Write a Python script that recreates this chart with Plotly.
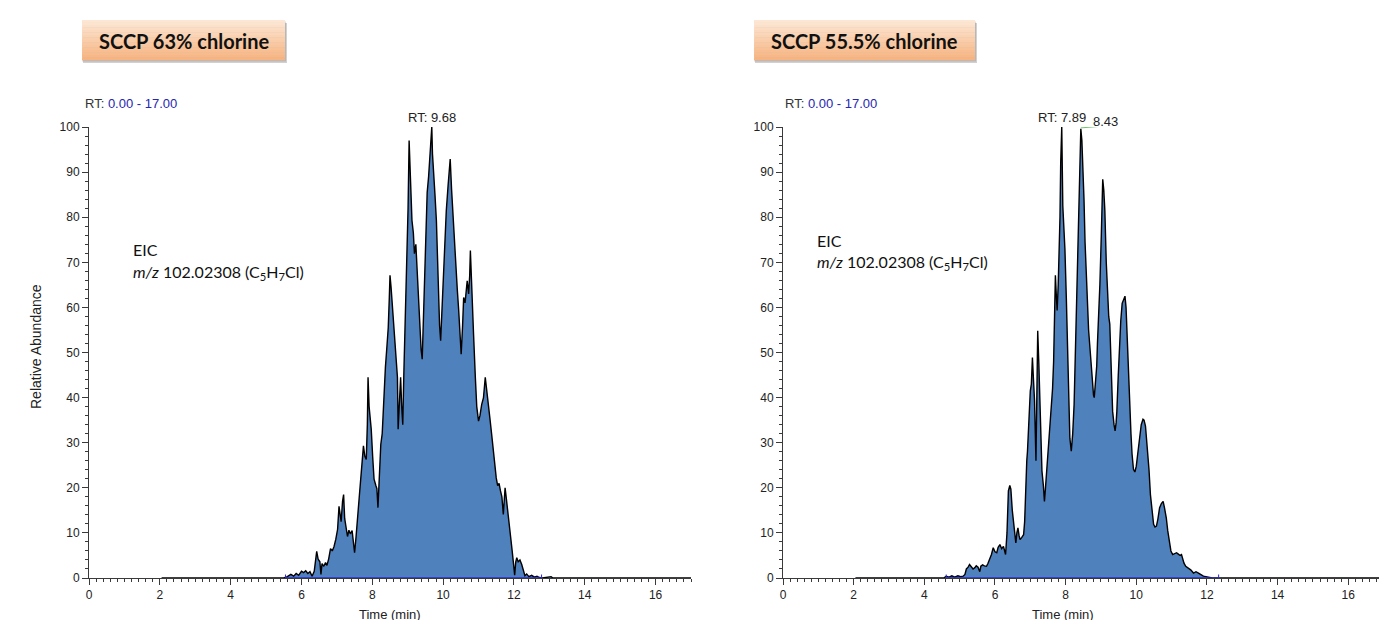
import plotly.graph_objects as go

W, H = 1379, 620

# ---------------- data ----------------
left_time = [2.05, 5.50, 5.60, 5.70, 5.78, 5.85, 5.92, 6.00, 6.06, 6.12, 6.18, 6.24, 6.30, 6.36,
             6.43, 6.47, 6.52, 6.55, 6.58, 6.63, 6.68, 6.72, 6.77, 6.82, 6.87, 6.92, 6.97, 7.02,
             7.06, 7.09, 7.12, 7.16, 7.19, 7.22, 7.26, 7.30, 7.34, 7.38, 7.43, 7.47, 7.50, 7.54,
             7.58, 7.63, 7.68, 7.72, 7.75, 7.79, 7.83, 7.86, 7.88, 7.91, 7.94, 7.97, 8.01, 8.05,
             8.10, 8.13, 8.16, 8.20, 8.24, 8.28, 8.32, 8.37, 8.41, 8.45, 8.48, 8.50, 8.53, 8.56,
             8.60, 8.64, 8.68, 8.71, 8.73, 8.76, 8.80, 8.83, 8.86, 8.89, 8.92, 8.95, 8.98, 9.01,
             9.04, 9.06, 9.09, 9.12, 9.16, 9.19, 9.23, 9.27, 9.31, 9.34, 9.38, 9.41, 9.44, 9.48,
             9.52, 9.55, 9.59, 9.62, 9.65, 9.68, 9.70, 9.73, 9.77, 9.81, 9.84, 9.87, 9.90, 9.93,
             9.97, 10.00, 10.04, 10.09, 10.14, 10.18, 10.20, 10.24, 10.28, 10.32, 10.36, 10.40,
             10.44, 10.48, 10.51, 10.55, 10.58, 10.62, 10.65, 10.68, 10.72, 10.75, 10.77, 10.80,
             10.82, 10.86, 10.91, 10.95, 11.00, 11.04, 11.09, 11.14, 11.19, 11.23, 11.28, 11.32,
             11.37, 11.42, 11.46, 11.50, 11.54, 11.58, 11.62, 11.66, 11.70, 11.73, 11.75, 11.78,
             11.82, 11.86, 11.90, 11.95, 11.99, 12.02, 12.05, 12.08, 12.12, 12.17, 12.22, 12.27,
             12.31, 12.36, 12.42, 12.50, 12.58, 12.65, 12.72, 12.80, 13.05, 13.10, 17.00]
left_abund = [0, 0, 0.3, 0.8, 0.4, 1.0, 0.6, 1.5, 1.2, 1.6, 1.0, 1.4, 0.4, 1.5,
              5.9, 4.2, 3.6, 0.8, 3.2, 2.6, 3.4, 2.8, 4.3, 6.5, 6.0, 7.0, 8.6, 10.8,
              15.9, 14.0, 12.5, 17.0, 18.5, 13.2, 11.5, 9.2, 10.6, 9.8, 10.5, 6.5, 5.6, 9.0,
              12.3, 17.8, 22.6, 26.8, 29.3, 27.0, 26.3, 34.0, 44.5, 38.0, 35.5, 33.0, 27.0, 21.9,
              20.5, 19.8, 15.6, 24.0, 29.6, 32.0, 40.5, 46.7, 51.0, 55.5, 62.0, 67.1, 64.5, 60.8,
              57.0, 53.3, 47.0, 44.5, 33.0, 40.0, 44.5, 38.0, 34.0, 45.0, 53.3, 62.0, 70.3, 82.0,
              97.0, 91.0, 84.0, 79.3, 76.5, 71.9, 74.0, 66.7, 60.0, 55.6, 50.5, 48.5, 56.0, 64.0,
              76.0, 85.5, 89.0, 93.6, 96.0, 100.0, 94.0, 89.0, 85.0, 79.3, 70.0, 62.2, 56.0, 52.6,
              60.0, 65.2, 73.0, 81.5, 87.0, 90.0, 92.9, 86.0, 80.0, 76.0, 71.1, 64.0,
              59.3, 55.0, 49.6, 56.0, 62.2, 61.0, 64.5, 65.9, 63.0, 67.0, 72.6, 65.0,
              62.2, 54.0, 44.5, 38.0, 34.8, 36.0, 38.5, 40.0, 44.5, 42.0, 39.3, 35.5,
              31.9, 28.0, 24.8, 22.2, 20.5, 21.0, 19.3, 18.0, 14.1, 17.5, 20.0, 18.0,
              14.8, 12.0, 9.6, 6.0, 3.0, 0.6, 3.5, 4.5, 3.6, 4.0, 3.0, 1.5,
              0.5, 0.9, 0.3, 0.6, 0.2, 0.4, 0.1, 0, 0.3, 0, 0]

right_time = [2.05, 4.55, 4.62, 4.70, 4.78, 4.86, 4.95, 5.03, 5.10, 5.15, 5.19, 5.24, 5.28, 5.33,
              5.38, 5.43, 5.47, 5.52, 5.57, 5.60, 5.65, 5.70, 5.76, 5.80, 5.85, 5.90, 5.95, 6.00,
              6.05, 6.09, 6.14, 6.19, 6.24, 6.28, 6.30, 6.34, 6.38, 6.42, 6.45, 6.49, 6.52, 6.56,
              6.59, 6.62, 6.65, 6.68, 6.71, 6.76, 6.81, 6.84, 6.87, 6.90, 6.92, 6.96, 7.00, 7.03,
              7.06, 7.09, 7.12, 7.16, 7.18, 7.21, 7.24, 7.26, 7.29, 7.33, 7.37, 7.40, 7.43, 7.45,
              7.49, 7.52, 7.56, 7.60, 7.63, 7.66, 7.69, 7.71, 7.74, 7.76, 7.79, 7.81, 7.84, 7.86,
              7.89, 7.92, 7.95, 7.98, 8.02, 8.05, 8.09, 8.12, 8.16, 8.20, 8.24, 8.27, 8.30, 8.34,
              8.38, 8.41, 8.43, 8.46, 8.49, 8.52, 8.55, 8.59, 8.62, 8.65, 8.68, 8.72, 8.76, 8.79,
              8.81, 8.83, 8.85, 8.88, 8.90, 8.94, 8.97, 9.01, 9.05, 9.08, 9.11, 9.15, 9.19, 9.22,
              9.25, 9.29, 9.33, 9.37, 9.40, 9.43, 9.45, 9.49, 9.52, 9.56, 9.60, 9.64, 9.68, 9.71,
              9.73, 9.76, 9.79, 9.82, 9.85, 9.88, 9.92, 9.96, 10.00, 10.04, 10.09, 10.14, 10.19,
              10.22, 10.26, 10.30, 10.33, 10.36, 10.40, 10.44, 10.49, 10.53, 10.57, 10.61, 10.66,
              10.71, 10.76, 10.80, 10.85, 10.89, 10.93, 10.98, 11.03, 11.08, 11.14, 11.19, 11.24,
              11.28, 11.32, 11.35, 11.40, 11.47, 11.54, 11.62, 11.69, 11.76, 11.83, 11.90, 11.97,
              12.05, 12.15, 17.00]
right_abund = [0, 0, 0.4, 0.2, 0.5, 0.2, 0.5, 0.3, 0.4, 0.8, 2.0, 2.4, 3.0, 2.6,
               2.0, 2.3, 2.7, 2.4, 1.4, 2.6, 2.9, 2.7, 2.6, 3.2, 4.1, 5.2, 6.7, 5.8,
               5.6, 6.8, 7.4, 6.5, 7.0, 6.0, 5.2, 10.0, 19.3, 20.5, 19.7, 15.0, 12.6, 9.5,
               7.8, 10.0, 11.1, 9.5, 8.5, 9.0, 9.6, 12.5, 22.2, 26.0, 28.1, 35.0, 41.5, 43.0,
               48.9, 44.0, 39.3, 26.0, 35.0, 54.8, 48.0, 43.0, 33.0, 23.7, 20.5, 17.0, 20.0, 22.2,
               25.0, 28.9, 33.0, 37.0, 42.0, 48.0, 58.0, 67.1, 62.0, 59.3, 65.0, 70.4, 80.0, 92.0,
               100.0, 82.5, 78.0, 72.9, 62.0, 52.0, 37.0, 31.0, 28.1, 32.0, 38.5, 48.0, 59.3, 70.0,
               83.0, 92.0, 99.6, 97.0, 92.2, 84.0, 74.4, 66.0, 59.3, 55.0, 51.9, 47.0, 43.0, 40.5,
               40.0, 42.0, 42.2, 47.0, 51.9, 58.0, 65.2, 76.0, 88.4, 86.0, 81.5, 70.0, 60.9, 58.0,
               56.3, 46.0, 37.0, 34.0, 32.6, 34.5, 37.0, 45.0, 51.9, 57.0, 60.9, 62.0, 62.5, 60.0,
               55.6, 50.0, 44.5, 38.0, 31.9, 27.5, 24.1, 23.5, 24.8, 27.5, 31.1, 34.0, 35.2,
               35.0, 33.7, 30.5, 28.1, 24.0, 18.5, 15.0, 11.9, 11.3, 11.5, 13.0, 15.6,
               16.5, 17.0, 15.5, 13.3, 10.5, 8.1, 6.0, 5.2, 5.4, 5.6, 5.3, 5.0,
               5.2, 4.0, 3.3, 2.6, 2.2, 1.8, 1.1, 1.4, 1.1, 0.8, 0.4, 0.3,
               0.1, 0, 0]

left_baseline = [5.55, 12.78]
right_baseline = [4.62, 12.33]
left_peak_labels = [9.68]
right_peak_labels = [7.89, 8.43]
titles = ["SCCP 63% chlorine", "SCCP 55.5% chlorine"]
x_ticks = [0, 2, 4, 6, 8, 10, 12, 14, 16]
y_ticks = [0, 10, 20, 30, 40, 50, 60, 70, 80, 90, 100]

# ---------------- styling helpers ----------------
FILL = "#4F81BD"
AX = "#3a3a3a"
TXT = "#222222"
SANS = "Liberation Sans, Arial, sans-serif"
CAL = "Lato, Open Sans, sans-serif"


def px(x):
    return x / W


def py(y):
    return 1 - y / H


fig = go.Figure()

for xa, ya, t, v, bl in [("x", "y", left_time, left_abund, left_baseline),
                         ("x2", "y2", right_time, right_abund, right_baseline)]:
    fig.add_trace(go.Scatter(x=t, y=v, mode="lines", fill="tozeroy", fillcolor=FILL,
                             line=dict(color="black", width=1.4), xaxis=xa, yaxis=ya,
                             hoverinfo="skip", showlegend=False))
    fig.add_trace(go.Scatter(x=bl, y=[0, 0], mode="lines+markers",
                             line=dict(color="#2a2ad0", width=1.6),
                             marker=dict(symbol="line-ns", size=5,
                                         line=dict(color="#2a2ad0", width=1)),
                             xaxis=xa, yaxis=ya, hoverinfo="skip", showlegend=False))

ydom = [py(578), py(127)]
common_x = dict(tickmode="array", tickvals=x_ticks, ticks="outside", ticklen=6,
                tickcolor=AX, tickwidth=1, showline=True, linecolor=AX, linewidth=1,
                showgrid=False, zeroline=False, automargin=False,
                tickfont=dict(family=SANS, size=12, color=TXT),
                minor=dict(tickmode="linear", tick0=0, dtick=0.2, ticks="outside", ticklen=3,
                           tickcolor=AX, tickwidth=1, showgrid=False))
common_y = dict(range=[0, 100], tickmode="array", tickvals=y_ticks, ticks="outside", ticklen=6,
                tickcolor=AX, tickwidth=1, showline=True, linecolor=AX, linewidth=1,
                showgrid=False, zeroline=False, automargin=False, domain=ydom,
                tickfont=dict(family=SANS, size=12, color=TXT),
                minor=dict(tickmode="linear", tick0=0, dtick=2, ticks="outside", ticklen=3,
                           tickcolor=AX, tickwidth=1, showgrid=False))

xl = dict(common_x); xl.update(range=[0, 17], domain=[px(89), px(691)], anchor="y")
xr = dict(common_x); xr.update(range=[0, 16.87], domain=[px(783), 1.0], anchor="y2")
yl = dict(common_y); yl.update(anchor="x")
yr = dict(common_y); yr.update(anchor="x2")

fig.update_layout(width=W, height=H, margin=dict(l=0, r=0, t=0, b=0),
                  paper_bgcolor="white", plot_bgcolor="white",
                  xaxis=xl, xaxis2=xr, yaxis=yl, yaxis2=yr)

shapes = []
annots = []

# header boxes with gradient and shadow
boxes = [(82, 20, 285, 60), (754, 20, 975, 60)]
top_c = (253, 231, 212)
bot_c = (247, 180, 128)
n = 16
for (x0, y0, x1, y1), title in zip(boxes, titles):
    shapes.append(dict(type="rect", xref="paper", yref="paper",
                       x0=px(x0 + 1), x1=px(x1 + 2), y0=py(y1 + 3), y1=py(y0 + 3),
                       fillcolor="rgba(0,0,0,0.18)", line=dict(width=0), layer="below"))
    shapes.append(dict(type="rect", xref="paper", yref="paper",
                       x0=px(x0), x1=px(x1 + 1), y0=py(y1 + 1.5), y1=py(y0 + 1.5),
                       fillcolor="rgba(0,0,0,0.12)", line=dict(width=0), layer="below"))
    for i in range(n):
        f = i / (n - 1)
        c = tuple(int(round(top_c[k] + (bot_c[k] - top_c[k]) * f)) for k in range(3))
        ya0 = y0 + (y1 - y0) * i / n
        ya1 = y0 + (y1 - y0) * (i + 1) / n
        shapes.append(dict(type="rect", xref="paper", yref="paper",
                           x0=px(x0), x1=px(x1), y0=py(ya1 + 0.3), y1=py(ya0),
                           fillcolor="rgb(%d,%d,%d)" % c, line=dict(width=0), layer="below"))
    annots.append(dict(xref="paper", yref="paper", x=px((x0 + x1) / 2), y=py((y0 + y1) / 2 + 1),
                       text="<b>%s</b>" % title, showarrow=False, xanchor="center", yanchor="middle",
                       font=dict(family=CAL, size=20, color="#111111")))

# RT range text
for xpos in [83, 783]:
    annots.append(dict(xref="paper", yref="paper", x=px(xpos), y=py(103),
                       text="RT: <span style='color:#2626b0'>0.00 - 17.00</span>",
                       showarrow=False, xanchor="left", yanchor="middle",
                       font=dict(family=SANS, size=13, color="#333333")))

# EIC text
for xpos, ytop in [(131, 250), (815, 240)]:
    annots.append(dict(xref="paper", yref="paper", x=px(xpos), y=py(ytop),
                       text="EIC", showarrow=False, xanchor="left", yanchor="middle",
                       font=dict(family=CAL, size=16, color="#111111")))
    annots.append(dict(xref="paper", yref="paper", x=px(xpos), y=py(ytop + 22),
                       text="<i>m/z</i> 102.02308 (C<sub>5</sub>H<sub>7</sub>Cl)",
                       showarrow=False, xanchor="left", yanchor="middle",
                       font=dict(family=CAL, size=16, color="#111111")))

# peak labels
annots.append(dict(xref="x", yref="y", x=left_peak_labels[0], y=100, yshift=10,
                   text="RT: %.2f" % left_peak_labels[0], showarrow=False,
                   xanchor="center", yanchor="middle",
                   font=dict(family=SANS, size=13, color="#222222")))
annots.append(dict(xref="x2", yref="y2", x=right_peak_labels[0], y=100, yshift=10,
                   text="RT: %.2f" % right_peak_labels[0], showarrow=False,
                   xanchor="center", yanchor="middle",
                   font=dict(family=SANS, size=13, color="#222222")))
annots.append(dict(xref="x2", yref="y2", x=right_peak_labels[1] + 0.3, y=100, yshift=6,
                   text="%.2f" % right_peak_labels[1], showarrow=False,
                   xanchor="left", yanchor="middle",
                   font=dict(family=SANS, size=13, color="#222222")))
shapes.append(dict(type="line", xref="x2", yref="y2", x0=right_peak_labels[1], y0=99.8,
                   x1=right_peak_labels[1] + 0.8, y1=100.3,
                   line=dict(color="#6cc36c", width=1)))

# axis titles
for xc in [390, 1063]:
    annots.append(dict(xref="paper", yref="paper", x=px(xc), y=py(614),
                       text="Time (min)", showarrow=False, xanchor="center", yanchor="middle",
                       font=dict(family=SANS, size=13, color=TXT)))
annots.append(dict(xref="paper", yref="paper", x=px(36), y=py(347), textangle=-90,
                   text="Relative Abundance", showarrow=False, xanchor="center", yanchor="middle",
                   font=dict(family=SANS, size=14, color=TXT)))

fig.update_layout(shapes=shapes, annotations=annots)
fig.write_html("out.html", config={"displayModeBar": False},
               post_script="document.body.style.margin='0';")
